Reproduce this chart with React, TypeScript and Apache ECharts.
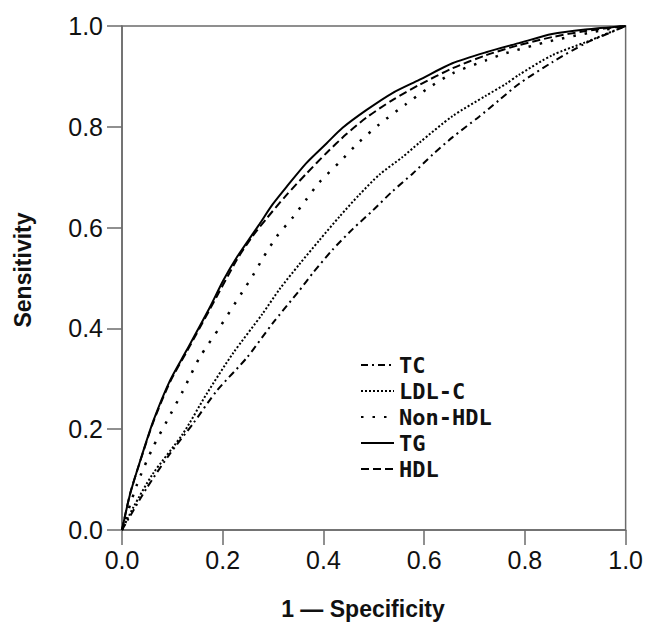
import React, { useEffect, useRef } from "react";
import * as echarts from "echarts";

// ROC curves: x = 1 - specificity, y = sensitivity
const tgX = [0, 0.016, 0.036, 0.062, 0.095, 0.128, 0.174, 0.201, 0.228, 0.26, 0.273, 0.299, 0.326, 0.366, 0.406, 0.438, 0.485, 0.537, 0.59, 0.656, 0.723, 0.788, 0.854, 0.92, 1.0];
const tgY = [0, 0.071, 0.137, 0.216, 0.296, 0.356, 0.441, 0.495, 0.541, 0.588, 0.607, 0.646, 0.68, 0.728, 0.767, 0.798, 0.833, 0.867, 0.893, 0.926, 0.948, 0.966, 0.984, 0.993, 1.0];

const hdlX = [0, 0.016, 0.036, 0.062, 0.095, 0.128, 0.174, 0.228, 0.26, 0.287, 0.326, 0.366, 0.406, 0.445, 0.485, 0.537, 0.59, 0.656, 0.723, 0.788, 0.854, 0.92, 1.0];
const hdlY = [0, 0.072, 0.136, 0.214, 0.293, 0.353, 0.437, 0.536, 0.584, 0.618, 0.664, 0.707, 0.748, 0.785, 0.818, 0.853, 0.883, 0.916, 0.942, 0.962, 0.978, 0.99, 1.0];

const nonHdlX = [0, 0.03, 0.061, 0.089, 0.121, 0.154, 0.194, 0.24, 0.26, 0.279, 0.307, 0.339, 0.366, 0.392, 0.432, 0.471, 0.511, 0.564, 0.604, 0.656, 0.723, 0.762, 0.85, 0.93, 1.0];
const nonHdlY = [0, 0.091, 0.163, 0.216, 0.276, 0.342, 0.402, 0.474, 0.505, 0.538, 0.582, 0.62, 0.656, 0.69, 0.73, 0.77, 0.805, 0.845, 0.874, 0.906, 0.932, 0.946, 0.97, 0.987, 1.0];

const ldlX = [0, 0.022, 0.061, 0.121, 0.168, 0.22, 0.279, 0.313, 0.352, 0.392, 0.432, 0.471, 0.511, 0.557, 0.59, 0.656, 0.723, 0.762, 0.788, 0.854, 0.921, 1.0];
const ldlY = [0, 0.044, 0.111, 0.191, 0.27, 0.35, 0.429, 0.478, 0.527, 0.575, 0.622, 0.665, 0.705, 0.74, 0.768, 0.821, 0.862, 0.885, 0.903, 0.942, 0.968, 1.0];

const tcX = [0, 0.049, 0.095, 0.141, 0.188, 0.248, 0.299, 0.352, 0.379, 0.418, 0.458, 0.498, 0.537, 0.577, 0.617, 0.656, 0.709, 0.749, 0.788, 0.854, 0.921, 0.972, 1.0];
const tcY = [0, 0.083, 0.151, 0.211, 0.276, 0.342, 0.41, 0.475, 0.51, 0.556, 0.597, 0.634, 0.672, 0.707, 0.745, 0.779, 0.82, 0.853, 0.885, 0.928, 0.966, 0.988, 1.0];

const legendNames = ["TC", "LDL-C", "Non-HDL", "TG", "HDL"];
const xTitle = "1 — Specificity";
const yTitle = "Sensitivity";

const pairs = (xs: number[], ys: number[]) => xs.map((x, i) => [x, ys[i]]);

export default function App() {
  const ref = useRef<HTMLDivElement>(null);
  useEffect(() => {
    if (!ref.current) return;
    const chart = echarts.init(ref.current, null, { renderer: "svg" });
    const axisColor = "#6b6b6b";
    const labelStyle = {
      fontFamily: "Liberation Sans, Arial, sans-serif",
      fontSize: 25,
      color: "#111",
      formatter: (v: number) => v.toFixed(1),
    };
    const mk = (name: string, xs: number[], ys: number[], type: any, width: number) => ({
      name,
      type: "line",
      data: pairs(xs, ys),
      symbol: "none",
      smooth: 0.25,
      lineStyle: { color: "#000", width, type },
      itemStyle: { color: "rgba(0,0,0,0)", borderColor: "rgba(0,0,0,0)", opacity: 0 },
      z: 3,
    });
    chart.setOption({
      animation: false,
      grid: {
        left: 122,
        right: 19,
        top: 26,
        bottom: 96,
        show: true,
        borderColor: axisColor,
        borderWidth: 1.5,
        backgroundColor: "transparent",
      },
      xAxis: {
        type: "value",
        min: 0,
        max: 1,
        interval: 0.2,
        axisLine: { show: true, lineStyle: { color: axisColor, width: 1.5 } },
        axisTick: { show: true, inside: false, length: 15, lineStyle: { color: axisColor, width: 1.5 } },
        splitLine: { show: false },
        axisLabel: { ...labelStyle, margin: 17 },
      },
      yAxis: {
        type: "value",
        min: 0,
        max: 1,
        interval: 0.2,
        axisLine: { show: true, lineStyle: { color: axisColor, width: 1.5 } },
        axisTick: { show: true, inside: false, length: 15, lineStyle: { color: axisColor, width: 1.5 } },
        splitLine: { show: false },
        axisLabel: { ...labelStyle, margin: 19 },
      },
      legend: {
        data: legendNames,
        orient: "vertical",
        left: 360,
        top: 354,
        itemWidth: 33,
        itemHeight: 14,
        itemGap: 4,
        padding: 0,
        itemStyle: { opacity: 0, color: "rgba(0,0,0,0)", borderColor: "rgba(0,0,0,0)" },
        textStyle: {
          fontFamily: "DejaVu Sans Mono, monospace",
          fontWeight: "bold",
          fontSize: 22,
          color: "#111",
          lineHeight: 22,
        },
      },
      graphic: [
        {
          type: "text",
          x: 23,
          y: 270,
          rotation: Math.PI / 2,
          style: {
            text: yTitle,
            fontFamily: "Liberation Sans, Arial, sans-serif",
            fontWeight: "bold",
            fontSize: 23,
            fill: "#111",
            align: "center",
            verticalAlign: "middle",
          },
        },
        {
          type: "text",
          x: 363,
          y: 609,
          style: {
            text: xTitle,
            fontFamily: "Liberation Sans, Arial, sans-serif",
            fontWeight: "bold",
            fontSize: 23,
            fill: "#111",
            align: "center",
            verticalAlign: "middle",
          },
        },
      ],
      series: [
        mk("TC", tcX, tcY, [7, 4, 2, 4], 2),
        mk("LDL-C", ldlX, ldlY, [2, 2], 2),
        mk("Non-HDL", nonHdlX, nonHdlY, [2.5, 9], 2.5),
        mk("TG", tgX, tgY, "solid", 2),
        mk("HDL", hdlX, hdlY, [8, 4], 2),
      ],
    });
    return () => chart.dispose();
  }, []);
  return <div ref={ref} style={{ width: 646, height: 626, position: "absolute", left: 0, top: 0 }} />;
}
